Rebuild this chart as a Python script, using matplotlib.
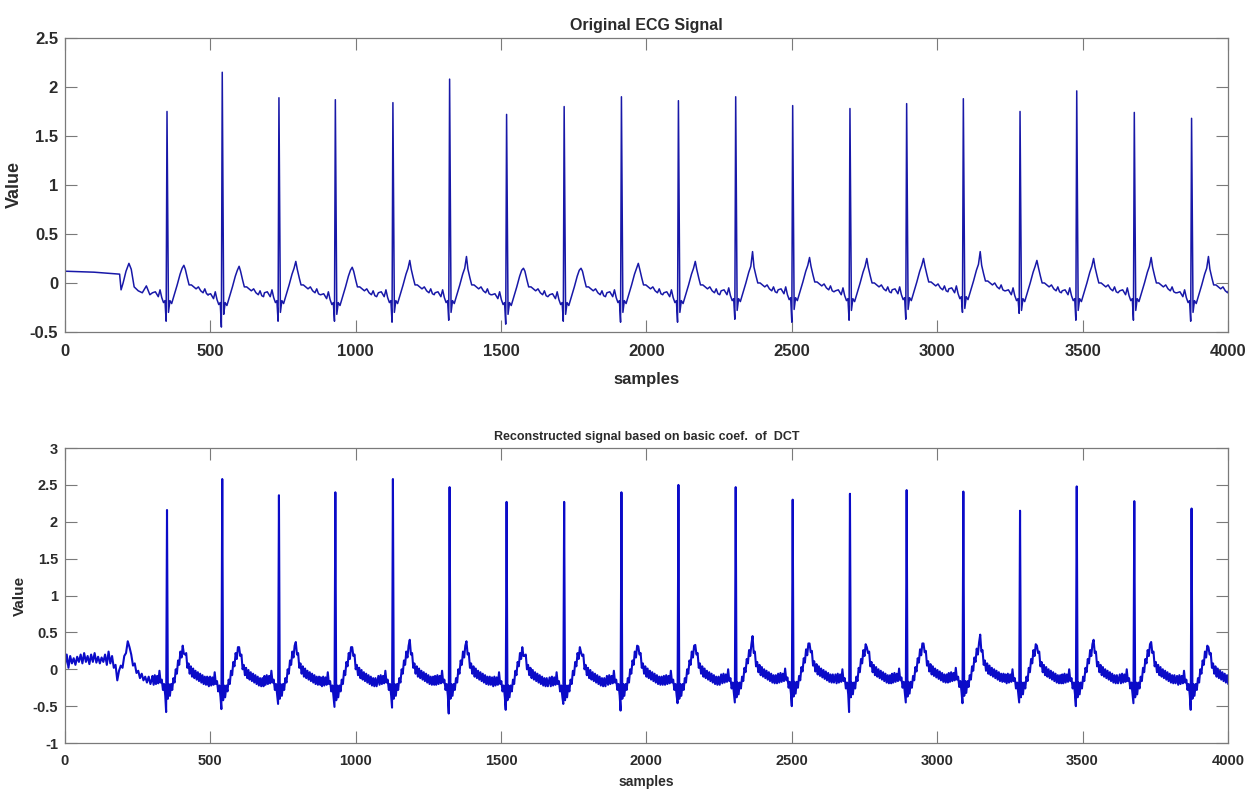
import numpy as np
import matplotlib
matplotlib.use("Agg")
import matplotlib.pyplot as plt

plt.rcParams['font.family'] = ['Liberation Sans', 'DejaVu Sans']

# R-peak positions (samples)
r_pos = [351, 541, 736, 930, 1128, 1323, 1519, 1717, 1914, 2110, 2307,
         2503, 2700, 2895, 3090, 3285, 3480, 3678, 3875]

# original signal: R height, Q depth, T height, baseline drift per beat
r_top = [1.75, 2.15, 1.89, 1.87, 1.84, 2.08, 1.72, 1.80, 1.90, 1.86, 1.90,
         1.81, 1.78, 1.83, 1.88, 1.75, 1.96, 1.74, 1.68]
q_top = [-0.39, -0.45, -0.39, -0.39, -0.40, -0.38, -0.42, -0.39, -0.40, -0.40, -0.37,
         -0.40, -0.38, -0.37, -0.30, -0.31, -0.38, -0.38, -0.39]
t_top = [0.18, 0.19, 0.22, 0.18, 0.23, 0.27, 0.17, 0.17, 0.20, 0.22, 0.30,
         0.23, 0.23, 0.22, 0.28, 0.21, 0.23, 0.24, 0.27]
d_top = [0.0, -0.02, 0.0, -0.02, 0.0, 0.0, -0.02, -0.02, 0.0, 0.0, 0.02,
         0.03, 0.02, 0.03, 0.04, 0.02, 0.02, 0.02, 0.0]

# reconstructed signal
r_bot = [2.16, 2.58, 2.36, 2.40, 2.58, 2.47, 2.27, 2.27, 2.40, 2.50, 2.47,
         2.30, 2.38, 2.43, 2.41, 2.15, 2.48, 2.28, 2.18]
q_bot = [-0.58, -0.54, -0.47, -0.51, -0.52, -0.60, -0.55, -0.47, -0.56, -0.46, -0.45,
         -0.50, -0.58, -0.45, -0.46, -0.45, -0.50, -0.46, -0.55]
t_bot = [0.21, 0.32, 0.37, 0.32, 0.40, 0.38, 0.20, 0.25, 0.31, 0.33, 0.43,
         0.32, 0.28, 0.32, 0.43, 0.30, 0.38, 0.35, 0.30]

# beat shape around R (offset in samples, value); Q/R/T filled per beat
shape_off_top = [-50, -40, -30, -24, -18, -12, -7, -3, 0, 5, 10, 16, 25, 35, 45,
                 52, 58, 63, 70, 76, 84, 92, 100, 108, 116, 124, 130, 136, 142]
shape_val_top = [-0.10, -0.09, -0.14, -0.07, -0.15, -0.20, -0.18, 0, 0, -0.30, -0.18,
                 -0.21, -0.12, -0.02, 0.09, 0.15, 0, 0.14, 0.05, -0.02, -0.02, -0.04,
                 -0.06, -0.04, -0.08, -0.10, -0.06, -0.11, -0.12]

shape_off_bot = [-50, -46, -42, -38, -34, -30, -26, -22, -18, -14, -10, -6, -3, 0,
                 3, 6, 10, 14, 18, 22, 26, 30, 34, 38, 42, 46, 50, 54, 58, 62,
                 66, 70, 74, 78, 82, 86, 90, 94, 98, 102, 106, 110, 114, 118,
                 122, 126, 130, 134, 138, 142]
shape_val_bot = [-0.09, -0.21, -0.08, -0.20, -0.09, -0.19, -0.02, -0.18, -0.14, -0.28,
                 -0.20, -0.36, 0, 0, -0.40, -0.20, -0.36, -0.20, -0.28, -0.12,
                 -0.18, 0.00, -0.06, 0.12, 0.06, 0.24, 0.16, 0.32, 0, 0.20,
                 0.22, 0.02, 0.08, -0.06, 0.04, -0.10, 0.01, -0.12, -0.02, -0.14,
                 -0.04, -0.16, -0.06, -0.18, -0.08, -0.20, -0.10, -0.21, -0.10, -0.21]

# stretch before the first beat
start_x_top = [0, 100, 188, 193, 200, 210, 220, 228, 238, 252, 266, 280, 292]
start_y_top = [0.12, 0.11, 0.09, -0.07, 0.0, 0.12, 0.20, 0.14, -0.04, -0.08, -0.10, -0.03, -0.12]

start_x_bot = list(range(0, 301, 6))
start_y_bot = [0.05, 0.20, 0.02, 0.18, 0.08, 0.15, 0.06, 0.17, 0.10, 0.20, 0.08,
               0.22, 0.10, 0.18, 0.07, 0.20, 0.10, 0.22, 0.09, 0.17, 0.08, 0.16,
               0.10, 0.20, 0.06, 0.24, 0.08, 0.18, 0.02, 0.06, -0.15, -0.02,
               0.05, 0.02, 0.18, 0.22, 0.38, 0.30, 0.20, 0.05, 0.08, -0.05,
               -0.02, -0.12, -0.06, -0.15, -0.10, -0.18, -0.10, -0.20, -0.12]


def build(start_x, start_y, off, val, r, q, t, drift=None):
    iq, ir = off.index(-3), off.index(0)
    it = off.index(58)
    xs, ys = list(start_x), list(start_y)
    for i, rp in enumerate(r_pos):
        d = drift[i] if drift else 0.0
        v = [x + d for x in val]
        v[iq], v[ir], v[it] = q[i], r[i], t[i] + d
        xs += [rp + o for o in off]
        ys += v
    return np.array(xs), np.array(ys)


x1, y1 = build(start_x_top, start_y_top, shape_off_top, shape_val_top, r_top, q_top, t_top, d_top)
x2, y2 = build(start_x_bot, start_y_bot, shape_off_bot, shape_val_bot, r_bot, q_bot, t_bot, d_top)

fig = plt.figure(figsize=(12.54, 7.94), dpi=100)
ax1 = fig.add_axes([0.0518, 0.5819, 0.9274, 0.3703])
ax2 = fig.add_axes([0.0518, 0.0642, 0.9274, 0.3715])

txt = '#2b2b2b'
edge = '#7a7a7a'

ax1.plot(x1, y1, color='#1818a8', lw=1.1)
ax2.plot(x2, y2, color='#0b0bc8', lw=1.5)

for ax, ylim, fs in [(ax1, (-0.5, 2.5), 12), (ax2, (-1, 3), 10.5)]:
    ax.set_xlim(0, 4000)
    ax.set_ylim(*ylim)
    ax.set_xticks(np.arange(0, 4001, 500))
    ax.set_yticks(np.arange(ylim[0], ylim[1] + 0.01, 0.5))
    ax.set_yticklabels([f'{v:g}' for v in np.arange(ylim[0], ylim[1] + 0.01, 0.5)])
    ax.tick_params(direction='in', top=True, right=True, length=8.5, width=0.8,
                   colors=edge, labelcolor=txt, labelsize=fs, pad=5)
    for lab in ax.get_xticklabels() + ax.get_yticklabels():
        lab.set_fontweight('bold')
    for s in ax.spines.values():
        s.set_color(edge)
        s.set_linewidth(0.9)

ax1.tick_params(axis='x', pad=9)
ax2.tick_params(axis='x', pad=8)

ax1.set_title('Original ECG Signal', fontsize=11.5, fontweight='bold', color=txt, pad=6)
ax1.set_xlabel('samples', fontsize=12, fontweight='bold', color=txt, labelpad=9)
ax1.set_ylabel('Value', fontsize=13, fontweight='bold', color=txt, labelpad=5)

ax2.set_title('Reconstructed signal based on basic coef.  of  DCT', fontsize=9,
              fontweight='bold', color=txt, pad=6)
ax2.set_xlabel('samples', fontsize=10, fontweight='bold', color=txt, labelpad=5)
ax2.set_ylabel('Value', fontsize=11, fontweight='bold', color=txt, labelpad=4)

fig.savefig('out.png', dpi=100)
